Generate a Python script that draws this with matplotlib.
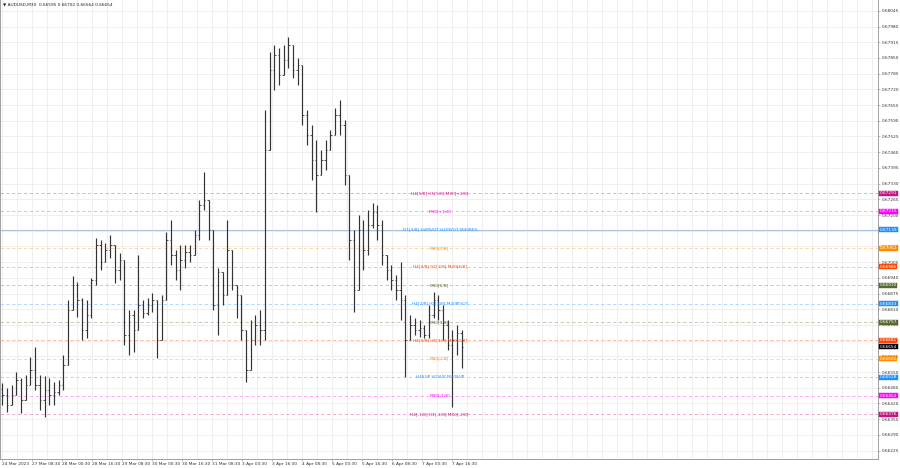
import numpy as np
import matplotlib
matplotlib.use("Agg")
import matplotlib.pyplot as plt

# ---------------- data ----------------
symbol_title = "\u25bc AUDUSD,M30  0.66595 0.66702 0.66564 0.66654"

# aggregated price columns (each = 5 M30 bars)
high = [0.66504, 0.66484, 0.66496, 0.66550, 0.66525, 0.66538, 0.66612, 0.66653, 0.66538, 0.66533,
        0.66525, 0.66509, 0.66517, 0.66620, 0.66848, 0.66947, 0.66923, 0.66856, 0.66848, 0.66939,
        0.67105, 0.67096, 0.67084, 0.67117, 0.67034, 0.67043, 0.66848, 0.66807, 0.66807, 0.67034,
        0.66848, 0.66856, 0.66877, 0.66827, 0.66869, 0.67130, 0.67179, 0.67055, 0.67076, 0.67076,
        0.67076, 0.67138, 0.67262, 0.67378, 0.67200, 0.67117, 0.66980, 0.66931, 0.67179, 0.67055,
        0.66910, 0.66869, 0.66724, 0.66765, 0.66786, 0.66807, 0.67635, 0.67875, 0.67904, 0.67891,
        0.67904, 0.67937, 0.67904, 0.67850, 0.67780, 0.67635, 0.67573, 0.67510, 0.67469, 0.67510,
        0.67552, 0.67643, 0.67676, 0.67593, 0.67345, 0.67138, 0.67200, 0.67179, 0.67221, 0.67250,
        0.67241, 0.67179, 0.67034, 0.66993, 0.66952, 0.67005, 0.66869, 0.66786, 0.66773, 0.66765,
        0.66745, 0.66827, 0.66881, 0.66869, 0.66827, 0.66765, 0.66724, 0.66745, 0.66724]
low = [0.66413, 0.66384, 0.66413, 0.66455, 0.66380, 0.66434, 0.66496, 0.66475, 0.66393, 0.66364,
       0.66413, 0.66413, 0.66455, 0.66475, 0.66579, 0.66827, 0.66778, 0.66682, 0.66691, 0.66773,
       0.66910, 0.66972, 0.67005, 0.67022, 0.66918, 0.66931, 0.66662, 0.66620, 0.66633, 0.66765,
       0.66773, 0.66786, 0.66798, 0.66608, 0.66724, 0.66910, 0.66993, 0.66931, 0.66889, 0.66980,
       0.67005, 0.67076, 0.67096, 0.67221, 0.67096, 0.66807, 0.66703, 0.66827, 0.66889, 0.66889,
       0.66773, 0.66682, 0.66509, 0.66558, 0.66662, 0.66662, 0.66682, 0.67593, 0.67717, 0.67738,
       0.67821, 0.67808, 0.67767, 0.67738, 0.67573, 0.67490, 0.67345, 0.67212, 0.67366, 0.67386,
       0.67469, 0.67552, 0.67531, 0.67324, 0.67014, 0.66798, 0.66889, 0.66972, 0.67034, 0.67146,
       0.67096, 0.66993, 0.66931, 0.66889, 0.66848, 0.66765, 0.66529, 0.66682, 0.66703, 0.66695,
       0.66691, 0.66691, 0.66773, 0.66765, 0.66682, 0.66641, 0.66405, 0.66620, 0.66566]
close = [0.66455, 0.66413, 0.66455, 0.66517, 0.66434, 0.66496, 0.66558, 0.66496, 0.66434, 0.66475,
         0.66455, 0.66467, 0.66496, 0.66579, 0.66807, 0.66910, 0.66848, 0.66724, 0.66786, 0.66931,
         0.67076, 0.67005, 0.67055, 0.67076, 0.66972, 0.67014, 0.66703, 0.66786, 0.66724, 0.66827,
         0.66794, 0.66827, 0.66848, 0.66682, 0.66848, 0.67096, 0.67034, 0.66972, 0.67014, 0.67047,
         0.67034, 0.67117, 0.67241, 0.67262, 0.67138, 0.66827, 0.66964, 0.66869, 0.67055, 0.66910,
         0.66869, 0.66724, 0.66558, 0.66682, 0.66745, 0.66724, 0.67469, 0.67800, 0.67862, 0.67780,
         0.67842, 0.67904, 0.67800, 0.67821, 0.67614, 0.67531, 0.67428, 0.67366, 0.67428, 0.67469,
         0.67531, 0.67614, 0.67573, 0.67366, 0.67096, 0.66889, 0.67138, 0.67055, 0.67159, 0.67212,
         0.67159, 0.67034, 0.66972, 0.66931, 0.66889, 0.66848, 0.66682, 0.66745, 0.66724, 0.66732,
         0.66703, 0.66786, 0.66848, 0.66807, 0.66745, 0.66662, 0.66682, 0.66711, 0.66654]
first_open = 0.66480
bars_per_column = 5

# Murrey-math style levels
level_prices = [0.67291, 0.67215, 0.67139, 0.67062, 0.66986, 0.66910, 0.66833,
                0.66757, 0.66681, 0.66605, 0.66528, 0.66452, 0.66376]
level_names = ["H4[5/8] H1[5/8] M30[+2/8]", "M30[+1/8]", "D1[3/8] H4PIVOT H1PIVOT M30RES",
               "M30[7/8]", "H4[3/8] H1[3/8] M30[6/8]", "M30[5/8]", "H4[2/8] H1[2/8] M30PIVOT",
               "M30[3/8]", "H4[1/8] H1[1/8] M30[2/8]", "M30[1/8]", "H4SUP H1SUP M30SUP",
               "M30[-1/8]", "H4[-1/8] H1[-1/8] M30[-2/8]"]
level_colors = ["#c71585", "#ff00ff", "#1e90ff", "#ff8c00", "#ff4500", "#556b2f", "#1e90ff",
                "#556b2f", "#ff4500", "#ff8c00", "#1e90ff", "#ff00ff", "#c71585"]
level_solid = [False, False, True, False, False, False, False,
               False, False, False, False, False, False]
current_price = 0.66654

price_ticks = [0.68045, 0.67980, 0.67915, 0.67850, 0.67785, 0.67720, 0.67655, 0.67590,
               0.67525, 0.67460, 0.67395, 0.67330, 0.67265, 0.67200, 0.67135, 0.67070,
               0.67005, 0.66940, 0.66875, 0.66810, 0.66745, 0.66680, 0.66615, 0.66550,
               0.66485, 0.66420, 0.66355, 0.66290, 0.66225]
date_labels = ["24 Mar 2023", "27 Mar 08:30", "28 Mar 00:30", "28 Mar 16:30", "29 Mar 08:30",
               "30 Mar 00:30", "30 Mar 16:30", "31 Mar 08:30", "3 Apr 00:30", "3 Apr 16:30",
               "4 Apr 08:30", "5 Apr 00:30", "5 Apr 16:30", "6 Apr 08:30", "7 Apr 00:30",
               "7 Apr 16:30"]
bars_per_label = 32

# ---------------- figure ----------------
W, H = 900, 468
fig = plt.figure(figsize=(W / 100, H / 100), dpi=100)
plot_right_px = 878
plot_bottom_px = 459
ax = fig.add_axes([0, (H - plot_bottom_px) / H, plot_right_px / W, plot_bottom_px / H])
px_per_bar = 0.9375
x_max = plot_right_px / px_per_bar
ax.set_xlim(0, x_max)
ax.set_ylim(0.66190, 0.68090)

FS = 3.1

# grid
for p in price_ticks:
    ax.axhline(p, color="#ededed", lw=0.6, zorder=0)
for xg in np.arange(2, x_max, 16):
    ax.axvline(xg, color="#ededed", lw=0.6, zorder=0)

# levels
for p, name, col, solid in zip(level_prices, level_names, level_colors, level_solid):
    if solid:
        ax.axhline(p, color="#a8c4de", lw=0.8, zorder=1)
    else:
        ax.axhline(p, color=col, lw=0.6, alpha=0.4, dashes=(4, 3), zorder=1)
    ax.text(469, p, name, color=col, fontsize=FS, ha="center", va="center", zorder=3)

# OHLC bars
close_a = np.array(close)
open_a = np.concatenate([[first_open], close_a[:-1]])
high_a = np.maximum(np.array(high), np.maximum(open_a, close_a))
low_a = np.minimum(np.array(low), np.minimum(open_a, close_a))
xs = np.arange(len(close_a)) * bars_per_column + bars_per_column / 2
bar_col = "#333333"
ax.vlines(xs, low_a, high_a, color=bar_col, lw=0.85, zorder=2)
ax.hlines(open_a, xs - 1.5, xs, color=bar_col, lw=0.6, zorder=2)
ax.hlines(close_a, xs, xs + 1.5, color=bar_col, lw=0.6, zorder=2)

# axes styling
ax.spines["top"].set_visible(False)
for s in ["left", "right", "bottom"]:
    ax.spines[s].set_color("#a0a0a0")
    ax.spines[s].set_linewidth(0.7)
ax.yaxis.tick_right()
ax.set_yticks(price_ticks)
ax.set_yticklabels([f"{p:.5f}" for p in price_ticks])
ax.tick_params(axis="y", labelsize=FS, length=1.5, width=0.5, color="#a0a0a0",
               labelcolor="#333333", pad=1.0)
date_pos = [2 + bars_per_label * k for k in range(len(date_labels))]
ax.set_xticks(date_pos)
ax.set_xticklabels(date_labels, ha="left")
ax.tick_params(axis="x", labelsize=FS, length=1.5, width=0.5, color="#a0a0a0",
               labelcolor="#333333", pad=1.0)

# price boxes on right axis
def price_box(p, col, txtcol="white"):
    ax.annotate(f"{p:.5f}", xy=(1.0, p), xycoords=("axes fraction", "data"),
                xytext=(1.2, 0), textcoords="offset points", fontsize=FS,
                color=txtcol, va="center", ha="left", zorder=5, annotation_clip=False,
                bbox=dict(boxstyle="square,pad=0.12", fc=col, ec=col, lw=0.3))

for p, col in zip(level_prices, level_colors):
    price_box(p, col)
price_box(current_price, "#000000")

# title
ax.text(3 / plot_right_px, 1 - 4 / plot_bottom_px, symbol_title, transform=ax.transAxes,
        fontsize=FS, color="#222222", ha="left", va="center")

fig.savefig("out.png", dpi=100)
